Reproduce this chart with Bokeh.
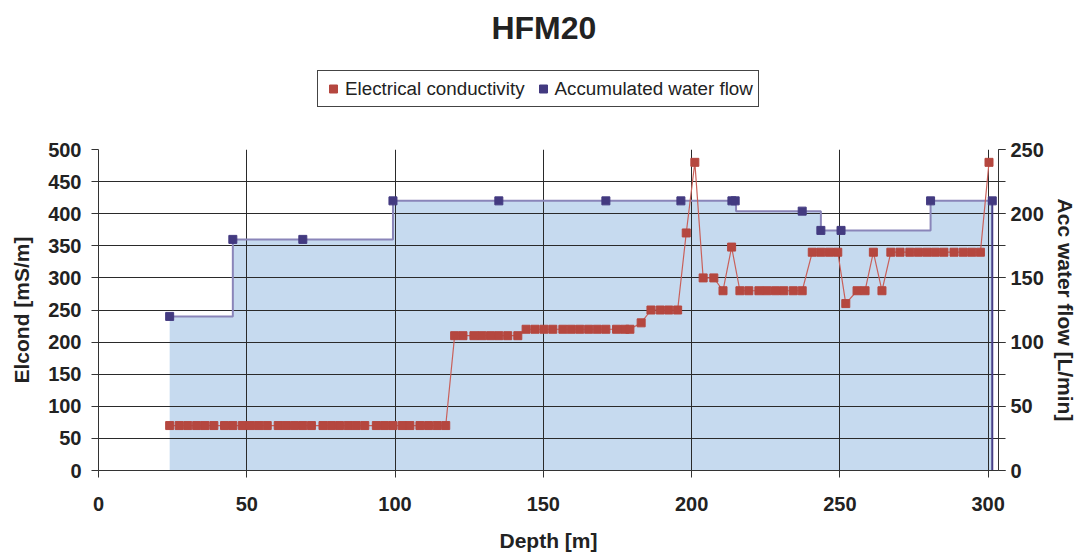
from bokeh.plotting import figure
from bokeh.layouts import column
from bokeh.models import (Range1d, LinearAxis, SingleIntervalTicker, Legend, LegendItem)
from bokeh.core.properties import value
from bokeh.embed import file_html
from bokeh.resources import INLINE

# ---------------- data ----------------
ec_depth = [24.0, 27.2, 30.1, 33.1, 35.9, 38.9, 42.5, 45.3, 48.5, 51.3,
            54.1, 56.9, 60.6, 63.3, 66.1, 68.9, 71.8, 75.7, 78.5, 81.3,
            84.2, 86.9, 89.8, 93.7, 96.5, 99.3, 102.4, 105.0, 108.4, 111.3,
            114.2, 117.1,
            120.1, 122.9, 126.6, 129.3, 132.2, 135.0, 138.0, 141.4,
            144.2, 147.2, 150.2, 153.2, 156.6, 159.4, 162.3, 165.3, 168.2, 171.1,
            174.7, 177.5, 179.2,
            183.0,
            186.3, 189.4, 192.3, 195.3,
            198.2, 201.1, 203.9, 207.5, 210.6, 213.5,
            216.3, 219.3, 222.7, 225.4, 228.3, 231.1, 234.3, 237.3,
            240.7, 243.6, 246.5, 249.3,
            252.0, 255.8, 258.5, 261.3, 264.2,
            267.2, 270.3, 273.6, 276.5, 279.4, 282.2, 285.1, 288.5, 291.6, 294.5,
            297.4, 300.3]
ec_value = [70, 70, 70, 70, 70, 70, 70, 70, 70, 70,
            70, 70, 70, 70, 70, 70, 70, 70, 70, 70,
            70, 70, 70, 70, 70, 70, 70, 70, 70, 70,
            70, 70,
            210, 210, 210, 210, 210, 210, 210, 210,
            220, 220, 220, 220, 220, 220, 220, 220, 220, 220,
            220, 220, 220,
            230,
            250, 250, 250, 250,
            370, 480, 300, 300, 280, 348,
            280, 280, 280, 280, 280, 280, 280, 280,
            340, 340, 340, 340,
            260, 280, 280, 340, 280,
            340, 340, 340, 340, 340, 340, 340, 340, 340, 340,
            340, 480]

flow_depth = [24.0, 45.3, 68.9, 99.3, 135.0, 171.1, 196.4, 213.6, 214.7,
              237.3, 243.6, 250.4, 280.6, 301.4]
flow_value = [120, 180, 180, 210, 210, 210, 210, 210, 210,
              202, 187, 187, 210, 210]

# accumulated flow profile (step edges and levels)
step_depth = [24.0, 45.3, 99.3, 215.0, 243.6, 280.6, 301.4]
step_value = [120, 180, 210, 202, 187, 210, 210]

x_ticks_interval = 50
title_text = "HFM20"
series_labels = ["Electrical conductivity", "Accumulated water flow"]

FONT = "Liberation Sans"
TXT = "#222222"
EC_COLOR = "#b5473f"
FLOW_COLOR = "#433a80"

# ---------------- header: title + legend ----------------
HEAD_H = 139
head = figure(width=1079, height=HEAD_H, output_backend="svg", toolbar_location=None,
              x_range=Range1d(98, 998), y_range=Range1d(0, HEAD_H),
              x_axis_type=None, y_axis_type=None, min_border=0)
head.outline_line_color = None
head.border_fill_color = "white"
head.background_fill_color = "white"
head.text(x=[543.4], y=[112], text=[title_text], text_align="center",
          text_baseline="alphabetic", text_font=value(FONT),
          text_font_style="bold", text_font_size="32px", text_color=TXT)
leg_ec = head.scatter(x=[ec_depth[0]], y=[ec_value[0]], marker="square",
                      fill_color=EC_COLOR, line_color=EC_COLOR, visible=False)
leg_flow = head.scatter(x=[flow_depth[0]], y=[flow_value[0]], marker="square",
                        fill_color=FLOW_COLOR, line_color=FLOW_COLOR, visible=False)
legend = Legend(items=[LegendItem(label=series_labels[0], renderers=[leg_ec]),
                       LegendItem(label=series_labels[1], renderers=[leg_flow])],
                orientation="horizontal", location=(219, 32),
                glyph_width=20, glyph_height=25, label_standoff=2, spacing=8,
                padding=5, margin=0,
                label_text_font=FONT, label_text_font_size="18.8px",
                label_text_color=TXT,
                border_line_color="#444444", border_line_width=1,
                border_line_alpha=1.0,
                inactive_fill_alpha=0.0,
                background_fill_color="white", background_fill_alpha=1.0)
head.add_layout(legend, "center")

# ---------------- main chart ----------------
p = figure(width=1079, height=555 - HEAD_H, output_backend="svg", toolbar_location=None,
           x_range=Range1d(0, 303.5), y_range=Range1d(0, 500),
           min_border_left=98, min_border_right=81, min_border_top=10,
           min_border_bottom=85)
p.extra_y_ranges = {"flow": Range1d(0, 250)}
p.outline_line_color = None
p.background_fill_color = "white"
p.border_fill_color = "white"

# area under accumulated flow
p.varea_step(x=step_depth, y1=0, y2=step_value, step_mode="after",
             fill_color="#c6daef", y_range_name="flow", level="image")
p.step(step_depth, step_value, mode="after", line_color="#8a85b9",
       line_width=2, y_range_name="flow")
p.segment(x0=[step_depth[-1]], y0=[0], x1=[step_depth[-1]], y1=[step_value[-1]],
          line_color="#463e86", line_width=2, y_range_name="flow")
p.scatter(flow_depth, flow_value, marker="square", size=8,
          fill_color=FLOW_COLOR, line_color=FLOW_COLOR, y_range_name="flow")

# electrical conductivity
p.line(ec_depth, ec_value, line_color="#c9605a", line_width=1.2)
p.scatter(ec_depth, ec_value, marker="square", size=8,
          fill_color=EC_COLOR, line_color=EC_COLOR)

# axes
xax = p.xaxis[0]
xax.ticker = SingleIntervalTicker(interval=x_ticks_interval, num_minor_ticks=0)
yax = p.yaxis[0]
yax.ticker = SingleIntervalTicker(interval=50, num_minor_ticks=0)
rax = LinearAxis(y_range_name="flow",
                 ticker=SingleIntervalTicker(interval=50, num_minor_ticks=2))
p.add_layout(rax, "right")

for ax in (xax, yax, rax):
    ax.axis_line_color = "#333333"
    ax.major_tick_line_color = "#333333"
    ax.minor_tick_line_color = "#333333"
    ax.major_tick_out = 7
    ax.major_tick_in = 0
    ax.minor_tick_out = 0
    ax.minor_tick_in = 0
    ax.major_label_text_font = FONT
    ax.major_label_text_font_style = "bold"
    ax.major_label_text_font_size = "20px"
    ax.major_label_text_color = TXT
    ax.axis_label_text_font = FONT
    ax.axis_label_text_font_style = "bold"
    ax.axis_label_text_font_size = "21px"
    ax.axis_label_text_color = TXT
rax.minor_tick_out = 7

xax.axis_label = "Depth [m]"
yax.axis_label = "Elcond [mS/m]"
rax.axis_label = "Acc water flow [L/min]"
xax.major_label_standoff = 19
yax.major_label_standoff = 10
rax.major_label_standoff = 5
xax.axis_label_standoff = 15
yax.axis_label_standoff = 12
rax.axis_label_standoff = 7

# grids
p.xgrid.ticker = SingleIntervalTicker(interval=x_ticks_interval, num_minor_ticks=0)
p.ygrid.ticker = SingleIntervalTicker(interval=50, num_minor_ticks=0)
for g in (p.xgrid[0], p.ygrid[0]):
    g.grid_line_color = "#2a2a2a"
    g.grid_line_width = 1
    g.grid_line_alpha = 1.0

layout = column(head, p, spacing=0)
open("out.html", "w").write(file_html(layout, INLINE))
